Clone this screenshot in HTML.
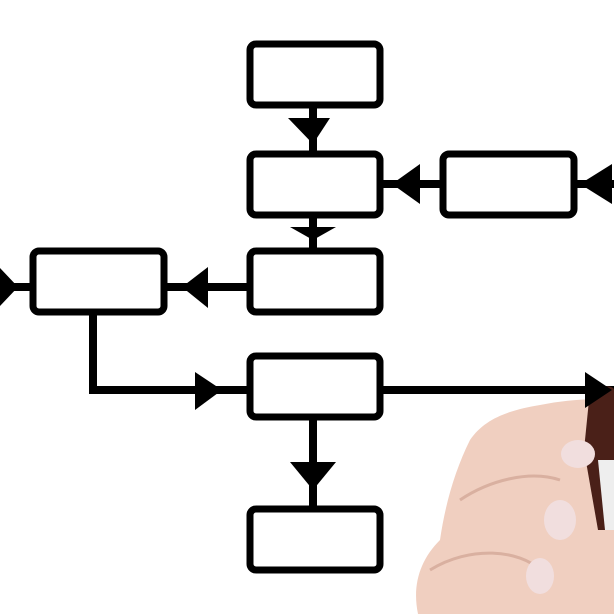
<!DOCTYPE html>
<html><head><style>body{margin:0;background:#fff}svg{display:block}</style></head><body>
<svg width="614" height="614" viewBox="0 0 614 614" xmlns="http://www.w3.org/2000/svg">
<rect width="614" height="614" fill="#fff"/>
<g fill="none" stroke="#000" stroke-width="8">
<line x1="313" y1="106" x2="313" y2="152"/>
<line x1="313" y1="216" x2="313" y2="250"/>
<line x1="382" y1="184" x2="441" y2="184"/>
<line x1="576" y1="184" x2="614" y2="184"/>
<line x1="166" y1="287" x2="249" y2="287"/>
<line x1="0" y1="287" x2="32" y2="287"/>
<polyline points="93,314 93,390 249,390"/>
<line x1="382" y1="390" x2="614" y2="390"/>
<line x1="313" y1="418" x2="313" y2="507"/>
</g>
<g fill="#fff" stroke="#000" stroke-width="7">
<rect x="250" y="44" width="130" height="61" rx="6"/>
<rect x="250" y="154" width="130" height="61" rx="6"/>
<rect x="250" y="251" width="130" height="61" rx="6"/>
<rect x="443" y="154" width="131" height="61" rx="6"/>
<rect x="33" y="251" width="131" height="61" rx="6"/>
<rect x="250" y="356" width="130" height="61" rx="6"/>
<rect x="250" y="509" width="130" height="61" rx="6"/>
</g>
<g fill="#000">
<polygon points="288,118 330,118 313,144"/>
<polygon points="290,227 336,227 313,240"/>
<polygon points="392,184 420,164 420,204"/>
<polygon points="580,184 612,164 612,204"/>
<polygon points="182,287 208,267 208,308"/>
<polygon points="0,268 18,287 0,306"/>
<polygon points="195,372 222,390 195,410"/>
<polygon points="290,462 336,462 313,490"/>
</g>
<!-- hand -->
<path d="M418,614 C412,585 420,560 440,540 C445,505 455,470 470,440 C485,418 510,410 540,405 C565,400 590,398 614,400 L614,614 Z" fill="#f0cfc0"/>
<path d="M460,500 C490,480 530,470 560,480" stroke="#d9b0a0" stroke-width="3" fill="none"/>
<path d="M430,570 C470,545 520,550 540,570" stroke="#d9b0a0" stroke-width="3" fill="none"/>
<path d="M590,390 C600,385 614,385 614,390 L614,530 L598,530 L584,450 Z" fill="#4a2018"/>
<path d="M598,460 L614,460 L614,530 L605,530 Z" fill="#eee"/>
<ellipse cx="578" cy="454" rx="17" ry="14" fill="#f1dede"/>
<ellipse cx="560" cy="520" rx="16" ry="20" fill="#f1dede"/>
<ellipse cx="540" cy="576" rx="14" ry="18" fill="#f1dede"/>
<polygon points="585,372 612,390 585,408" fill="#000"/>
</svg>
</body></html>
